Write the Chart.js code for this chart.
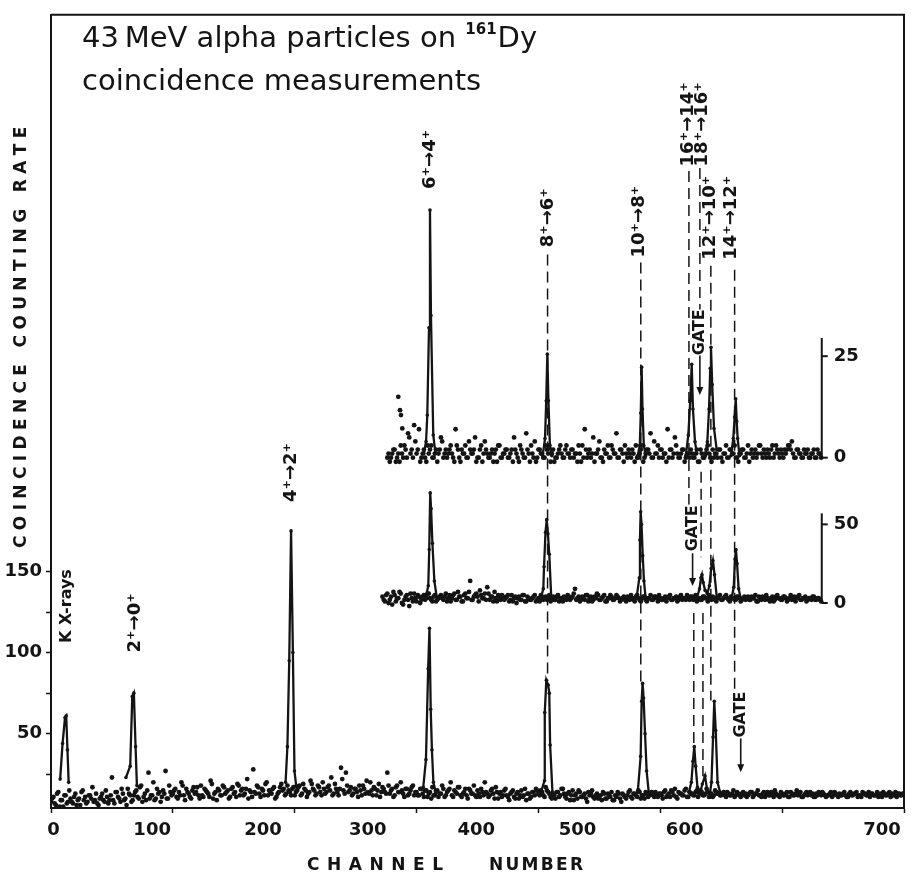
<!DOCTYPE html>
<html>
<head>
<meta charset="utf-8">
<title>161Dy coincidence spectra</title>
<script src="https://cdn.jsdelivr.net/npm/chart.js@4.4.1/dist/chart.umd.min.js"></script>
<style>
  html, body { margin: 0; padding: 0; background: #fff; }
  canvas { display: block; }
</style>
</head>
<body>
<canvas id="chart" width="920" height="893"></canvas>
<script>
// axes
const xTicks = [0, 100, 200, 300, 400, 500, 600, 700];
const xTickText = ['0', '100', '200', '300', '400', '500', '600', '700'];
const xTickTextAt = [2, 83, 174, 260, 349, 432, 520, 682]; // where the printed numbers sit
const yTicks = [25, 50, 75, 100, 125, 150];
const midAxisTicks = [0, 50];
const topAxisTicks = [0, 25];

// backgrounds: readings every 2 channels, even and odd channels kept apart
const bgStep = 2;
const bottomBgStart = 0;
const bottomBg = [
  8, 11, 6, 14, 9, 5, 12, 8, 10, 7, 13, 9, 6, 15, 11, 8, 12, 17, 9, 7, 10, 13, 8, 11, 9,
  23, 7, 14, 10, 16, 9, 6, 13, 8, 12, 15, 10, 18, 11, 9, 26, 12, 20, 10, 13, 8, 15, 27, 10, 14,
  13, 16, 10, 12, 18, 9, 14, 11, 15, 13, 17, 10, 12, 16, 14, 11, 19, 13, 9, 15, 12, 17, 14, 10, 16,
  13, 11, 18, 15, 12, 16, 10, 14, 28, 13, 17, 11, 15, 19, 12, 14, 16, 10, 13, 17, 15, 12, 18, 14, 16,
  12, 15, 18, 13, 16, 11, 14, 19, 15, 13, 17, 12, 16, 14, 18, 23, 13, 16, 12, 29, 15, 26, 14, 17, 13,
  16, 11, 15, 18, 13, 14, 20, 12, 16, 15, 11, 17, 14, 26, 13, 16, 12, 18, 14, 15, 11, 16, 13, 17, 12,
  14, 12, 16, 11, 15, 13, 10, 12, 14, 11, 13, 16, 12, 15, 20, 11, 14, 17, 12, 13, 16, 10, 15, 13, 12,
  15, 11, 14, 20, 13, 12, 16, 10, 14, 13, 11, 15, 12, 9, 14, 11, 13, 10, 15, 12, 9, 13, 11, 14, 16,
  13, 15, 12, 17, 14, 11, 13, 10, 14, 12, 16, 11, 13, 9, 15, 12, 10, 14, 11, 13, 8, 12, 15, 10, 13,
  11, 9, 13, 10, 12, 14, 9, 11, 13, 8, 12, 10, 14, 11, 13, 12, 15, 10, 12, 14, 11, 13, 12, 14, 11,
  13, 10, 15, 12, 11, 14, 16, 10, 13, 12, 15, 11, 14, 13, 12, 15, 13, 14, 12, 16, 11, 13, 12, 14, 13,
  12, 14, 11, 13, 12, 15, 12, 13, 11, 14, 13, 12, 14, 11, 13, 15, 12, 13, 11, 14, 12, 13, 15, 12, 11,
  13, 12, 14, 11, 13, 12, 15, 13, 11, 12, 14, 13, 12, 11, 13, 14, 12, 13, 11, 12, 14, 12, 13, 11, 12,
  13, 12, 11, 14, 12, 13, 11, 12, 14, 13, 12, 11, 13, 12, 14, 12, 11, 13, 12, 14, 13, 12, 11, 13, 12,
  13
];
const bottomBgOddStart = 1;
const bottomBgOdd = [
  10, 7, 13, 5, 9, 12, 7, 15, 8, 11, 6, 10, 14, 9, 7, 12, 10, 8, 13, 6, 11, 9, 15, 7, 12,
  9, 14, 11, 8, 13, 10, 16, 12, 9, 14, 11, 17, 8, 13, 15, 10, 12, 9, 16, 14, 11, 13, 10, 18, 12,
  15, 11, 14, 20, 12, 16, 13, 10, 17, 14, 12, 18, 11, 15, 13, 21, 10, 14, 16, 12, 18, 13, 15, 11, 17,
  14, 19, 12, 16, 13, 22, 15, 11, 14, 18, 13, 16, 12, 20, 15, 13, 17, 11, 14, 19, 16, 13, 15, 12, 17,
  14, 17, 12, 19, 15, 13, 21, 16, 12, 18, 14, 20, 13, 17, 15, 12, 19, 14, 16, 22, 13, 18, 15, 12, 16,
  14, 18, 12, 16, 21, 13, 15, 17, 12, 19, 14, 16, 13, 18, 15, 11, 17, 14, 20, 13, 16, 12, 15, 18, 14,
  12, 16, 13, 15, 11, 14, 17, 12, 15, 13, 18, 11, 14, 16, 12, 15, 13, 17, 11, 14, 12, 16, 13, 18, 11,
  13, 16, 12, 14, 11, 15, 13, 17, 10, 14, 12, 16, 11, 13, 15, 10, 14, 12, 11, 16, 13, 10, 14, 12, 15,
  12, 14, 11, 15, 13, 10, 12, 14, 11, 16, 13, 10, 14, 12, 9, 13, 15, 11, 12, 10, 14, 13, 11, 12, 10,
  12, 14, 10, 13, 11, 9, 12, 14, 10, 13, 11, 12, 15, 10, 13, 11, 14, 12, 10, 13, 12, 14, 11, 12, 13,
  12, 14, 11, 13, 15, 12, 11, 14, 13, 12, 16, 11, 13, 12, 14, 11, 15, 12, 13, 14, 12, 11, 15, 13, 12,
  13, 12, 14, 12, 13, 11, 14, 12, 13, 12, 11, 13, 14, 12, 13, 12, 11, 14, 13, 12, 14, 11, 13, 12, 14,
  12, 13, 11, 14, 12, 13, 12, 14, 11, 13, 12, 14, 13, 11, 12, 13, 14, 12, 12, 13, 11, 14, 12, 13, 12,
  14, 11, 13, 12, 13, 14, 12, 11, 13, 12, 14, 13, 12, 12, 11, 13, 14, 12, 13, 11, 12, 14, 13, 12, 13
];
const midBgStart = 272;
const midBg = [
  4, 1, 6, 2, -1, 5, 3, 7, 0, 2, 5, -2, 3, 6, 1, 4, 2, 5, 3, 6, 2, 4, 1, 3, 5,
  2, 6, 3, 1, 5, 2, 7, 4, 1, 6, 3, 14, 2, 5, 4, 8, 3, 6, 10, 2, 4, 7, 1, 3, 5,
  2, 4, 1, 5, 3, 0, 4, 2, 5, 1, 3, 2, 4, 1, 3, 5, 2, 4, 3, 1, 4, 2, 5, 3, 1,
  3, 5, 2, 4, 9, 3, 1, 4, 2, 5, 3, 1, 4, 6, 2, 3, 5, 1, 3, 4, 2, 5, 3, 2, 4,
  1, 3, 5, 2, 4, 3, 1, 4, 2, 3, 5, 2, 4, 1, 3, 2, 4, 3, 5, 2, 3, 1, 4, 2, 3,
  5, 2, 4, 3, 1, 3, 2, 4, 3, 5, 2, 3, 1, 4, 2, 3, 5, 2, 4, 3, 2, 4, 1, 3, 2,
  4, 2, 3, 5, 1, 3, 4, 2, 3, 1, 4, 2, 5, 3, 2, 4, 1, 3, 2, 4, 3, 5, 2, 3, 1,
  3, 2, 4, 2, 3, 1
];
const midBgOddStart = 273;
const midBgOdd = [
  2, 5, 0, 4, 7, 1, 3, 6, -1, 4, 2, 6, 1, 3, 5, 0, 4, 2, 6, 3, 1, 5, 2, 4, 3,
  4, 1, 5, 3, 6, 2, 4, 1, 5, 3, 7, 2, 4, 6, 1, 5, 3, 2, 6, 4, 1, 3, 5, 2, 4,
  3, 5, 2, 1, 4, 3, 2, 5, 1, 4, 2, 3, 5, 2, 1, 4, 3, 2, 5, 3, 2, 4, 1, 3, 4,
  2, 4, 3, 6, 2, 4, 2, 3, 5, 1, 4, 2, 3, 5, 2, 4, 1, 3, 5, 2, 3, 4, 1, 3, 2,
  4, 2, 3, 1, 5, 2, 3, 4, 1, 3, 2, 4, 3, 5, 2, 3, 1, 4, 2, 3, 4, 2, 5, 3, 2,
  3, 4, 2, 5, 3, 2, 4, 3, 1, 3, 4, 2, 3, 5, 2, 4, 3, 1, 3, 2, 4, 3, 2, 4, 3,
  2, 4, 3, 1, 4, 2, 3, 5, 2, 3, 1, 4, 3, 2, 4, 3, 2, 5, 3, 1, 4, 2, 3, 4, 2,
  3, 4, 2, 3, 2
];
const topBgStart = 276;
const topBg = [
  0, -1, 1, 2, 0, -1, 1, 3, 0, 5, 2, 8, 1, 7, 0, 2, -1, 1, 3, 0, 2, 1, 5, 0, 2,
  1, 3, 0, 7, 2, -1, 1, 3, 0, 2, 1, 5, 0, 2, -1, 4, 1, 0, 2, 1, -1, 3, 0, 1, 2,
  0, 2, 5, 1, -1, 2, 0, 6, 1, 3, 0, -1, 2, 1, 0, 3, 1, -1, 2, 0, 1, 3, 0, 2, 1,
  0, 2, 1, -1, 1, 3, 7, 0, 2, 1, -1, 1, 4, 0, 2, 1, 0, 3, 1, 6, 0, 2, -1, 1, 2,
  0, 1, 3, 0, 2, -1, 1, 2, 6, 0, 1, 3, 2, 0, 1, 7, 2, 0, 5, 1, 0, 2, -1, 1, 0,
  1, 0, 2, -1, 1, 0, 2, 1, -1, 0, 1, 2, 0, 1, 3, 0, 2, 1, 0, -1, 1, 2, 0, 3, 1,
  0, 2, 1, 3, 0, 1, 2, 0, 3, 1, 2, 0, 1, 2, 2, 3, 4, 0, 2, 1, 0, 2, 1, 0, 1,
  2, 0, 1, 0
];
const topBgOddStart = 277;
const topBgOdd = [
  1, 0, 2, -1, 1, 3, 0, 2, 6, 1, 0, 4, 2, -1, 1, 0, 3, 2, 0, 1, -1, 2, 4, 1, 0,
  2, 1, -1, 3, 0, 2, 1, 0, 4, 1, 2, -1, 0, 3, 1, 2, 0, 1, -1, 2, 3, 0, 1, 2, 0,
  1, -1, 2, 0, 3, 1, 0, 2, -1, 1, 4, 0, 2, 1, 0, 2, 3, 1, -1, 0, 2, 1, 0, 3, 1,
  2, 0, 1, 3, -1, 0, 2, 1, 0, 5, 1, 2, 0, -1, 1, 3, 0, 2, 1, 0, 2, 1, 3, 0, 1,
  2, -1, 0, 1, 3, 0, 2, 1, 0, 4, 1, 0, 2, 1, -1, 0, 2, 1, 3, 0, 1, 2, 0, 1, 2,
  0, 1, -1, 2, 0, 1, 3, 0, 2, 1, 0, 2, -1, 1, 0, 2, 1, 3, 0, 1, 2, 0, 1, -1, 2,
  1, 0, 3, 1, 2, 0, 1, 2, 0, 3, 1, 2, 0, 1, 3, 2, 1, 0, 2, 1, 0, 1, 2, 0, 1,
  0, 2, 1
];
const topExtraCh = [285, 286.4, 287.2, 288.3];
const topExtraN = [15, 11.7, 10.5, 7.2];

// peaks (channel, counts)
const bottomPeakCh = [
  [7.5, 9.5, 11.5, 12.5, 13.5, 14.5],
  [61.5, 65, 66.7, 68, 69.4, 70.5],
  [192.5, 194, 195.5, 197, 198.5, 199.8, 201.2],
  [305.5, 307.7, 309.5, 310.6, 311.6, 312.6, 313.8, 315.5],
  [402.5, 405, 405.2, 406.5, 408, 408.9, 409.6, 411.5],
  [481.5, 483.9, 484.7, 485.5, 486.3, 487.5, 488.8, 490.5],
  [523.5, 525.5, 526.8, 527.9, 529, 530.5, 532.5, 534.5, 536.7, 538.5, 540.5, 542, 543.3, 544.3, 545.5, 547, 549]
];
const bottomPeakN = [
  [22, 44, 60, 61, 40, 20],
  [23, 30, 73, 75, 42, 18],
  [20, 42, 95, 175, 100, 27, 18],
  [17, 34, 90, 115, 65, 40, 20, 15],
  [15, 21, 63, 83, 80, 75, 43, 14],
  [14, 36, 70, 81, 72, 50, 27, 14],
  [14, 20, 33, 42, 30, 17, 13, 19, 24, 15, 12, 20, 48, 70, 52, 20, 14]
];
const midPeakCh = [
  [307.5, 309.6, 310.4, 311.2, 311.9, 313, 314.6, 316.5],
  [402, 404, 404.6, 405.8, 406.8, 407.8, 408.9, 410.5],
  [480.5, 482.8, 483.3, 483.9, 484.6, 485.6, 486.6, 488],
  [530, 532.2, 533.4, 534.2, 535.2, 536.8, 538.6, 540.3, 541.8, 543.2, 544.5, 546.3, 548],
  [558.5, 560.3, 561.3, 562.1, 563, 564.3, 566]
];
const midPeakN = [
  [3, 11, 34, 70, 60, 38, 14, 4],
  [3, 9, 23, 45, 53, 44, 31, 4],
  [3, 16, 40, 58, 50, 30, 14, 3],
  [3, 9, 16, 18, 13, 8, 6, 11, 22, 27, 18, 4, 3],
  [3, 10, 28, 34, 25, 9, 3]
];
const topPeakCh = [
  [306, 307.8, 308.8, 310.2, 311, 311.8, 313.7, 315.5],
  [403.5, 405.4, 406.4, 407.3, 408.2, 409.5, 411],
  [481.5, 483.2, 484, 484.7, 485.4, 486.5, 488],
  [521, 523, 524.6, 525.8, 526.8, 528.5, 530],
  [537, 538.6, 540, 541, 541.6, 542.6, 544.1, 546.3],
  [558, 559.9, 561, 561.9, 562.7, 563.5, 565]
];
const topPeakN = [
  [1, 4, 10.5, 32, 61, 35, 5.6, 1],
  [0.5, 4.7, 14, 25.5, 14, 2.3, 0.5],
  [0.5, 3, 11, 22.3, 12, 3, 0.5],
  [0.5, 5.6, 14, 23, 12, 3.9, 1],
  [0.5, 3.9, 12, 22, 27.2, 18, 7.2, 2],
  [0.5, 4.7, 10, 14.5, 9, 4.7, 0.5]
];

// annotations, in channels and bottom-spectrum counts
const levelText = ['6⁺→4⁺', '8⁺→6⁺', '10⁺→8⁺', '16⁺→14⁺', '18⁺→16⁺', '12⁺→10⁺', '14⁺→12⁺', '4⁺→2⁺', '2⁺→0⁺', 'K X-rays'];
const levelCh = [311, 407.8, 482.5, 522.7, 534.2, 540.8, 558, 197, 68.9, 13.1];
const levelAt = [404, 368, 365.6, 425.6, 425.6, 368, 368, 211, 118.3, 128.7];
const dashCh = [407.5, 484, 523.5, 527.5, 532.5, 533.5, 535, 541.5, 561];
const dashTop = [345.3, 340.4, 396.8, 124.4, 398.7, 211.5, 124.4, 338.5, 336];
const dashBottom = [82.7, 81.5, 191.3, 42.8, 311.5, 158.8, 23.8, 70.4, 76.6];
const gateCh = [532.5, 526.5, 566];
const gateAt = [297.4, 176.6, 61.8];
const gateFrom = [283.1, 161.2, 47.1];
const gateTo = [258.8, 141, 26.3];
const sideAxisCh = 632.5;
const midAxisTop = 57;
const topAxisTop = 29.5;

const ink = '#141414';
const labelFont = 'bold 18px "DejaVu Sans"';

function pts(chs, ns) {
    return chs.map((c, i) => ({ x: c, y: ns[i] }));
}
function background(start, vals) {
    return vals.map((v, i) => ({ x: start + i * bgStep, y: v }));
}
function dots(data, axis) {
    return { data, yAxisID: axis, showLine: false, pointRadius: 2.4, pointBackgroundColor: ink, pointBorderWidth: 0 };
}
function peak(data, axis) {
    return { data, yAxisID: axis, showLine: true, borderColor: ink, borderWidth: 2.3, pointRadius: 1.8,
             pointBackgroundColor: ink, pointBorderWidth: 0, tension: 0 };
}

const datasets = [];
datasets.push(dots(background(bottomBgStart, bottomBg), 'y'));
datasets.push(dots(background(bottomBgOddStart, bottomBgOdd), 'y'));
datasets.push(dots(background(midBgStart, midBg), 'yMid'));
datasets.push(dots(background(midBgOddStart, midBgOdd), 'yMid'));
datasets.push(dots(background(topBgStart, topBg), 'yTop'));
datasets.push(dots(background(topBgOddStart, topBgOdd), 'yTop'));
datasets.push(dots(pts(topExtraCh, topExtraN), 'yTop'));
bottomPeakCh.forEach((c, i) => datasets.push(peak(pts(c, bottomPeakN[i]), 'y')));
midPeakCh.forEach((c, i) => datasets.push(peak(pts(c, midPeakN[i]), 'yMid')));
topPeakCh.forEach((c, i) => datasets.push(peak(pts(c, topPeakN[i]), 'yTop')));
dashCh.forEach((c, i) => datasets.push({
    data: [{ x: c, y: dashTop[i] }, { x: c, y: dashBottom[i] }], yAxisID: 'y', showLine: true,
    borderColor: ink, borderWidth: 1.5, borderDash: [11, 6], pointRadius: 0
}));

function upText(ctx, text, px, py, font) {
    ctx.save();
    ctx.translate(px, py);
    ctx.rotate(-Math.PI / 2);
    ctx.font = font;
    ctx.textAlign = 'center';
    ctx.textBaseline = 'middle';
    ctx.fillText(text, 0, 0);
    ctx.restore();
}

// spaced capitals squeezed into a given length
function spacedText(ctx, text, cx, cy, len, rotate) {
    ctx.save();
    ctx.translate(cx, cy);
    if (rotate) ctx.rotate(-Math.PI / 2);
    ctx.font = 'bold 17px "DejaVu Sans"';
    ctx.textBaseline = 'middle';
    ctx.textAlign = 'left';
    const w = ctx.measureText(text).width;
    const gap = (len - w) / (text.length - 1);
    let pos = -len / 2;
    for (const ch of text) {
        ctx.fillText(ch, pos, 0);
        pos += ctx.measureText(ch).width + gap;
    }
    ctx.restore();
}

const spectrumAnnotations = {
    id: 'spectrumAnnotations',
    afterDatasetsDraw(chart) {
        const { ctx, chartArea: a } = chart;
        const { x, y, yMid, yTop } = chart.scales;
        ctx.save();
        ctx.strokeStyle = ink;
        ctx.fillStyle = ink;

        // frame
        ctx.lineWidth = 2;
        ctx.beginPath();
        ctx.moveTo(a.left, a.top);
        ctx.lineTo(a.right, a.top);
        ctx.lineTo(a.right, a.bottom);
        ctx.stroke();

        // channel numbers
        ctx.font = labelFont;
        ctx.textAlign = 'center';
        ctx.textBaseline = 'middle';
        xTickText.forEach((t, i) => ctx.fillText(t, x.getPixelForValue(xTickTextAt[i]), a.bottom + 22));

        // side scales of the gated spectra
        const sx = x.getPixelForValue(sideAxisCh);
        [[yMid, midAxisTicks, midAxisTop], [yTop, topAxisTicks, topAxisTop]].forEach(([s, ticks, top]) => {
            ctx.lineWidth = 2;
            ctx.beginPath();
            ctx.moveTo(sx, s.getPixelForValue(0));
            ctx.lineTo(sx, s.getPixelForValue(top));
            ctx.stroke();
            ticks.forEach(v => {
                const py = s.getPixelForValue(v);
                ctx.beginPath();
                ctx.moveTo(sx, py);
                ctx.lineTo(sx + 6, py);
                ctx.stroke();
                ctx.textAlign = 'left';
                ctx.fillText(String(v), sx + 12, py);
            });
        });

        // transition labels
        levelText.forEach((t, i) => {
            const f = t === 'K X-rays' ? 'bold 16px "DejaVu Sans"' : labelFont;
            upText(ctx, t, x.getPixelForValue(levelCh[i]), y.getPixelForValue(levelAt[i]), f);
        });

        // gates
        ctx.lineWidth = 1.6;
        gateCh.forEach((c, i) => {
            const px = x.getPixelForValue(c);
            upText(ctx, 'GATE', px, y.getPixelForValue(gateAt[i]), 'bold 16px "DejaVu Sans"');
            const y0 = y.getPixelForValue(gateFrom[i]);
            const y1 = y.getPixelForValue(gateTo[i]);
            ctx.beginPath();
            ctx.moveTo(px, y0);
            ctx.lineTo(px, y1 - 6);
            ctx.stroke();
            ctx.beginPath();
            ctx.moveTo(px - 3.5, y1 - 8);
            ctx.lineTo(px + 3.5, y1 - 8);
            ctx.lineTo(px, y1);
            ctx.closePath();
            ctx.fill();
        });

        // heading
        ctx.textAlign = 'left';
        ctx.textBaseline = 'alphabetic';
        ctx.font = '29px "DejaVu Sans"';
        const line1 = '43\u2009MeV alpha particles on ';
        ctx.fillText(line1, 82, 47);
        let hx = 82 + ctx.measureText(line1).width;
        ctx.font = 'bold 15px "DejaVu Sans"';
        ctx.fillText('161', hx, 34);
        hx += ctx.measureText('161').width + 1;
        ctx.font = '29px "DejaVu Sans"';
        ctx.fillText('Dy', hx, 47);
        ctx.fillText('coincidence measurements', 82, 90);

        // axis titles
        spacedText(ctx, 'COINCIDENCE COUNTING RATE', 22, 338, 420, true);
        spacedText(ctx, 'CHANNEL', 375, 866, 136, false);
        spacedText(ctx, 'NUMBER', 536, 866, 94, false);
        ctx.restore();
    }
};

new Chart(document.getElementById('chart'), {
    type: 'scatter',
    data: { datasets },
    options: {
        responsive: false,
        animation: false,
        layout: { padding: { top: 11, right: 16, left: 0, bottom: 0 } },
        plugins: { legend: { display: false }, tooltip: { enabled: false } },
        scales: {
            x: {
                type: 'linear', min: 0, max: 700,
                afterFit(s) { s.height = 85; },
                afterBuildTicks(s) { s.ticks = xTicks.map(v => ({ value: v })); },
                ticks: { display: false },
                grid: { drawOnChartArea: false, tickLength: 5, tickWidth: 1.5, color: ink },
                border: { color: ink, width: 2 }
            },
            y: {
                min: 4.2, max: 493.1,
                afterFit(s) { s.width = 51; },
                afterBuildTicks(s) { s.ticks = yTicks.map(v => ({ value: v })); },
                ticks: {
                    callback: v => (v % 50 === 0 ? v : ''),
                    color: ink, padding: 4,
                    font: { family: 'DejaVu Sans', size: 18, weight: 'bold' }
                },
                grid: { drawOnChartArea: false, tickLength: 5, tickWidth: 1.5, color: ink },
                border: { color: ink, width: 2 }
            },
            yMid: { display: false, min: -130.4, max: 374.1 },
            yTop: { display: false, min: -86.3, max: 109.1 }
        }
    },
    plugins: [spectrumAnnotations]
});
</script>
</body>
</html>
